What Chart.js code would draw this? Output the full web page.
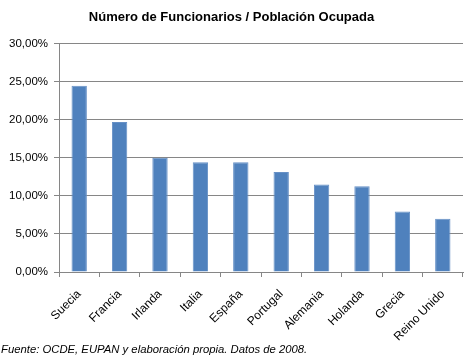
<!DOCTYPE html>
<html>
<head>
<meta charset="utf-8">
<script src="https://cdn.jsdelivr.net/npm/chart.js@4"></script>
<style>
  html, body { margin: 0; padding: 0; background: #fff; }
  #wrap { position: relative; width: 470px; height: 358px; }
  #fuente {
    position: absolute; left: 1px; top: 343px;
    font: italic 11.3px "Liberation Sans", Arial, sans-serif; color: #000;
  }
</style>
</head>
<body>
<div id="wrap">
  <canvas id="chart" width="470" height="358"></canvas>
  <div id="fuente">Fuente: OCDE, EUPAN y elaboración propia. Datos de 2008.</div>
</div>
<script>
const countries = ['Suecia', 'Francia', 'Irlanda', 'Italia', 'España', 'Portugal', 'Alemania', 'Holanda', 'Grecia', 'Reino Unido'];
const funcionarios = [24.45, 19.7, 15.0, 14.4, 14.4, 13.15, 11.5, 11.25, 7.95, 7.0];
const yTicks = [0, 5, 10, 15, 20, 25, 30];

const gridGray = '#868686';

const ctx = document.getElementById('chart').getContext('2d');
new Chart(ctx, {
    type: 'bar',
    data: {
        labels: countries,
        datasets: [{
            data: funcionarios,
            backgroundColor: '#4f81bd',
            borderColor: '#6690c6',
            borderWidth: 1,
            barPercentage: 0.38,
            categoryPercentage: 1
        }]
    },
    options: {
        responsive: false,
        animation: false,
        layout: { padding: { left: 0, right: 7, bottom: 16 } },
        plugins: {
            legend: { display: false },
            tooltip: { enabled: false },
            title: {
                display: true,
                text: 'Número de Funcionarios / Población Ocupada',
                color: '#000',
                font: { family: '"Liberation Sans", Arial, sans-serif', size: 13, weight: 'bold' },
                padding: { top: 10, bottom: 18 }
            }
        },
        scales: {
            x: {
                grid: { offset: true, drawOnChartArea: false, tickLength: 5, color: gridGray },
                border: { color: gridGray },
                ticks: {
                    minRotation: 45, maxRotation: 45, padding: 10,
                    color: '#000',
                    font: { family: '"Liberation Sans", Arial, sans-serif', size: 12 }
                },
                afterFit: (scale) => { scale.height = 70; }
            },
            y: {
                min: 0, max: 30,
                afterBuildTicks: (scale) => { scale.ticks = yTicks.map(v => ({ value: v })); },
                grid: { color: gridGray, tickLength: 5 },
                border: { color: gridGray },
                ticks: {
                    padding: 6,
                    color: '#000',
                    font: { family: '"Liberation Sans", Arial, sans-serif', size: 11.5 },
                    callback: (v) => v.toFixed(2).replace('.', ',') + '%'
                },
                afterFit: (scale) => { scale.width = 59; }
            }
        }
    }
});
</script>
</body>
</html>
